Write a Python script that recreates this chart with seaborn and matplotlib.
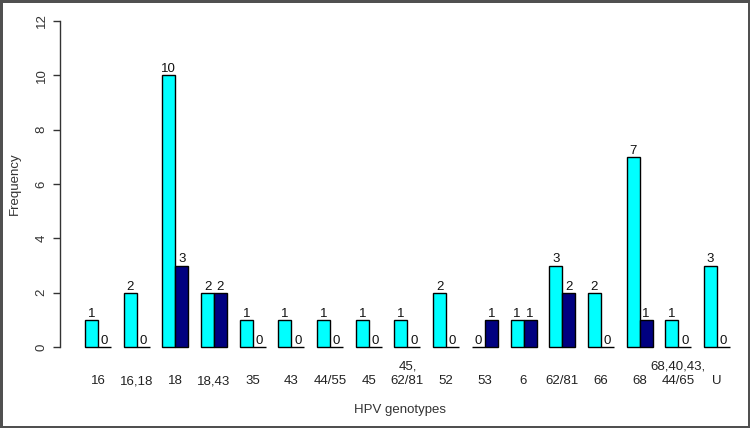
import pandas as pd
import numpy as np
import seaborn as sns
import matplotlib.pyplot as plt

genotypes = ["16", "16,18", "18", "18,43", "35", "43", "44/55", "45", "45,\n62/81",
             "52", "53", "6", "62/81", "66", "68", "68,40,43,\n44/65", "U"]
group_a = [1, 2, 10, 2, 1, 1, 1, 1, 1, 2, 0, 1, 3, 2, 7, 1, 3]
group_b = [0, 0, 3, 2, 0, 0, 0, 0, 0, 0, 1, 1, 2, 0, 1, 0, 0]
groups = ["A", "B"]
colors = ["#00FFFF", "#000080"]

df = pd.DataFrame({
    "genotype": genotypes * 2,
    "freq": group_a + group_b,
    "group": [groups[0]] * len(genotypes) + [groups[1]] * len(genotypes),
})

sns.set_style("white")
plt.rcParams["font.family"] = ["Liberation Sans", "DejaVu Sans"]

fig = plt.figure(figsize=(7.5, 4.28), dpi=100, edgecolor="#505050", linewidth=2.5)
ax = fig.add_axes([60 / 750, 81 / 428, 680 / 750, 326 / 428])

sns.barplot(data=df, x="genotype", y="freq", hue="group", order=genotypes,
            palette=colors, saturation=1, width=0.67, edgecolor="black",
            linewidth=1, legend=False, ax=ax)

for p in ax.patches:
    p.set_clip_on(False)
for c in ax.containers:
    ax.bar_label(c, padding=0, fontsize=9.5, color="#111111")

# axis limits so group centres land where the reference has them
ax.set_xlim(-0.98, 16 + 23 / 38.7)
ax.set_ylim(0, 12)
ax.set_yticks(np.arange(0, 13, 2))
ax.tick_params(axis="y", length=5, width=1, color="#333333", direction="out",
               labelsize=9.5, labelcolor="#333333", pad=4, labelrotation=90, left=True)
for t in ax.get_yticklabels():
    t.set_va("center")
ax.tick_params(axis="x", length=0, pad=27, labelsize=9.5, labelcolor="#222222")
for t in ax.get_xticklabels():
    t.set_va("baseline")
    t.set_linespacing(1.35)

sns.despine(ax=ax, bottom=True, top=True, right=True)
ax.spines["left"].set_color("#333333")
ax.spines["left"].set_linewidth(1)

ax.set_xlabel("HPV genotypes", fontsize=9.5, color="#333333")
ax.set_ylabel("Frequency", fontsize=9.5, color="#333333", va="center")
ax.xaxis.set_label_coords(0.5, -57 / 326)
ax.yaxis.set_label_coords(-45 / 680, 0.5)

fig.savefig("out.png", dpi=100)
